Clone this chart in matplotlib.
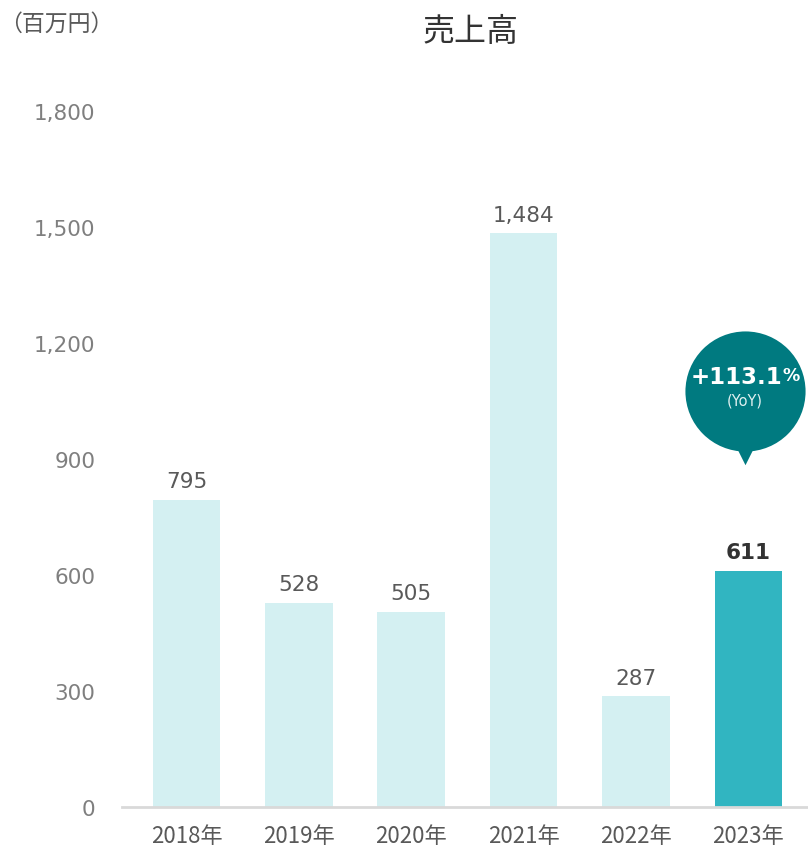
import matplotlib.pyplot as plt

plt.rcParams['font.family'] = ['DejaVu Sans', 'Noto Sans CJK JP']

years = ["2018年", "2019年", "2020年", "2021年", "2022年", "2023年"]
sales = [795, 528, 505, 1484, 287, 611]
yoy_text = "+113.1"
yticks = [0, 300, 600, 900, 1200, 1500, 1800]

light = "#D4F0F2"
accent = "#31B5C1"
bubble = "#007A80"
grey = "#7F7F7F"

fig = plt.figure(figsize=(8.08, 8.53), dpi=100)
ax = fig.add_axes([0.151, 0.0528, 0.849, 0.8159])

x = range(len(years))
colors = [light] * (len(years) - 1) + [accent]
bars = ax.bar(x, sales, width=0.6, color=colors, zorder=2)

ax.set_xlim(-0.573, 5.53)
ax.set_ylim(0, 1800)
ax.set_yticks(yticks)
ax.set_yticklabels([f"{v:,}" for v in yticks], color=grey, fontsize=15.5)
ax.set_xticks(list(x))
ax.set_xticklabels(years, color="#595959", fontsize=16, family=['Noto Sans CJK JP'])
ax.tick_params(axis='y', length=0, pad=19)
ax.tick_params(axis='x', length=0, pad=12)

for s in ['top', 'right', 'left']:
    ax.spines[s].set_visible(False)
ax.spines['bottom'].set_color("#D9D9D9")
ax.spines['bottom'].set_linewidth(2)

# value labels above each bar
for i, v in enumerate(sales):
    last = i == len(sales) - 1
    ax.annotate(f"{v:,}", xy=(i, v), xytext=(0, 6), textcoords='offset points',
                ha='center', va='bottom', fontsize=15.5,
                color="#333333" if last else "#595959",
                fontweight='bold' if last else 'normal')

# YoY speech bubble over the latest bar
last_i = len(sales) - 1
bx = last_i - 0.03
by = sales[-1] + 465
ax.scatter([bx], [by], s=86.5 ** 2, color=bubble, zorder=5, clip_on=False, linewidths=0)
ax.scatter([bx], [by - 165], s=14 ** 2, marker='v', color=bubble, zorder=5,
           clip_on=False, linewidths=0)
main = ax.annotate(yoy_text, xy=(bx, by), xytext=(-6, 2), textcoords='offset points',
                   ha='center', va='bottom', fontsize=16.5, fontweight='bold',
                   color='white', zorder=6)
fig.canvas.draw()
bb = main.get_window_extent()
fig.text(bb.x1 / fig.bbox.width, bb.y0 / fig.bbox.height + 0.0045, "%",
         fontsize=12.5, fontweight='bold', color='white', ha='left', va='bottom', zorder=6)
ax.annotate("(YoY)", xy=(bx, by), xytext=(0, -1), textcoords='offset points',
            ha='center', va='top', fontsize=10.5, color='#E0F0F0', zorder=6)

fig.text(0.582, 0.962, "売上高", ha='center', va='center', fontsize=23,
         color="#333333", family=['Noto Sans CJK JP'])
fig.text(0.07, 0.971, "（百万円）", ha='center', va='center', fontsize=16.5,
         color="#595959", family=['Noto Sans CJK JP'])

fig.savefig("out.png", dpi=100)
